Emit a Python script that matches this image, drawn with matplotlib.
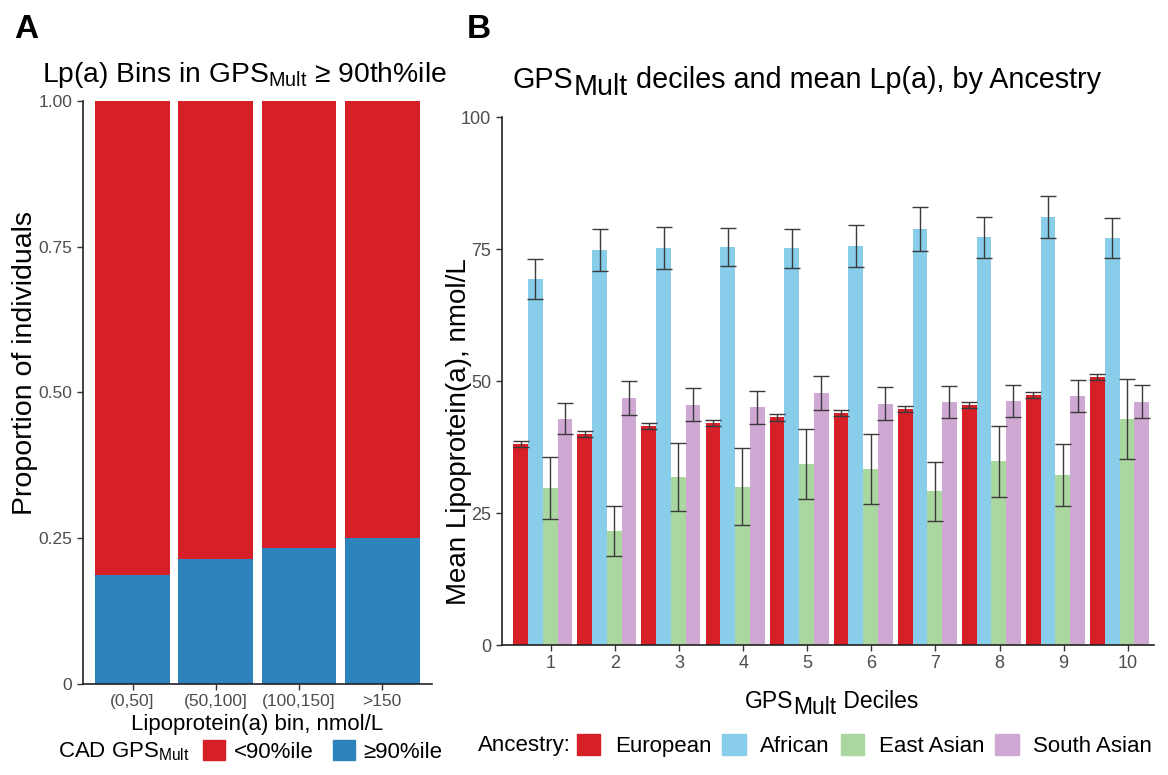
import numpy as np
import matplotlib
matplotlib.use("Agg")
import matplotlib.pyplot as plt
from matplotlib.patches import Patch

plt.rcParams['font.family'] = ['Liberation Sans', 'DejaVu Sans']
plt.rcParams['mathtext.default'] = 'regular'

# ---- panel A data ----
lpa_bins = ['(0,50]', '(50,100]', '(100,150]', '>150']
prop_high = [0.187, 0.215, 0.233, 0.2505]   # >=90%ile share
prop_low = [1 - p for p in prop_high]

# ---- panel B data ----
deciles = list(range(1, 11))
ancestries = ['European', 'African', 'East Asian', 'South Asian']
eur_mean = [38.1, 40.0, 41.5, 42.0, 43.1, 44.0, 44.7, 45.5, 47.4, 50.8]
eur_err = [0.6, 0.6, 0.6, 0.6, 0.6, 0.6, 0.6, 0.6, 0.6, 0.6]
afr_mean = [69.3, 74.8, 75.2, 75.4, 75.1, 75.6, 78.8, 77.2, 81.0, 77.1]
afr_err = [3.85, 3.9, 4.0, 3.65, 3.75, 3.95, 4.1, 3.9, 4.0, 3.75]
eas_mean = [29.7, 21.6, 31.8, 30.0, 34.3, 33.4, 29.1, 34.8, 32.2, 42.8]
eas_err = [5.9, 4.8, 6.4, 7.3, 6.55, 6.6, 5.55, 6.75, 5.85, 7.65]
sas_mean = [42.9, 46.8, 45.5, 45.0, 47.7, 45.7, 46.0, 46.2, 47.2, 46.1]
sas_err = [2.95, 3.25, 3.15, 3.15, 3.2, 3.15, 3.0, 3.0, 3.05, 3.1]

red = '#d71f27'
blue_a = '#2d83bb'
anc_colors = [red, '#88cdea', '#aad79f', '#cfa9d3']
tick_gray = '#4d4d4d'

fig = plt.figure(figsize=(11.68, 7.75), dpi=100)

def style_axes(ax):
    for s in ['top', 'right']:
        ax.spines[s].set_visible(False)
    for s in ['left', 'bottom']:
        ax.spines[s].set_linewidth(1.2)
        ax.spines[s].set_color('#222222')
    ax.tick_params(colors='#333333', labelcolor=tick_gray, length=4, width=1)

def split_text(x, y, parts, size, drop):
    # text pieces where the middle one ("Mult") sits lower, full size
    t1 = fig.text(x, y, parts[0], fontsize=size, va='baseline')
    t2 = axB.annotate(parts[1], xy=(1, 0), xycoords=t1, xytext=(0, -drop),
                      textcoords='offset points', fontsize=size, va='bottom',
                      annotation_clip=False)
    axB.annotate(parts[2], xy=(1, 0), xycoords=(t2, t1), xytext=(0, 0),
                 textcoords='offset points', fontsize=size, va='bottom',
                 annotation_clip=False)

# ================= Panel A =================
axA = fig.add_axes([0.0708, 0.1174, 0.2992, 0.7523])
x = np.arange(1, len(lpa_bins) + 1)
axA.bar(x, prop_high, width=0.9, color=blue_a)
axA.bar(x, prop_low, width=0.9, bottom=prop_high, color=red)
axA.set_xlim(0.4, 4.6)
axA.set_ylim(0, 1)
axA.set_xticks(x)
axA.set_xticklabels(lpa_bins, fontsize=12.5)
axA.set_yticks([0, 0.25, 0.5, 0.75, 1.0])
axA.set_yticklabels(['0', '0.25', '0.50', '0.75', '1.00'], fontsize=12.5)
style_axes(axA)
axA.set_xlabel('Lipoprotein(a) bin, nmol/L', fontsize=16, labelpad=3)
axA.set_ylabel('Proportion of individuals', fontsize=20.5)
axA.yaxis.set_label_coords(-0.128, 0.55)

fig.text(0.012, 0.962, 'A', fontsize=24, fontweight='bold', va='center')
fig.text(0.036, 0.903, r'Lp(a) Bins in GPS$_{Mult}$ ≥ 90th%ile', fontsize=20.3, va='center')

fig.text(0.05, 0.030, r'CAD GPS$_{Mult}$', fontsize=16, va='center')
hA = [Patch(color=red, label='<90%ile'), Patch(color=blue_a, label='≥90%ile')]
fig.legend(handles=hA, loc='center left', bbox_to_anchor=(0.174, 0.030), ncol=2,
           frameon=False, fontsize=16, handlelength=1.0, handleheight=1.0,
           handletextpad=0.36, columnspacing=0.9, borderpad=0, borderaxespad=0)

# ================= Panel B =================
axB = fig.add_axes([0.4295, 0.1677, 0.5585, 0.6813])
w = 0.23
shift = -0.128
xd = np.array(deciles, dtype=float)
means = [eur_mean, afr_mean, eas_mean, sas_mean]
errs = [eur_err, afr_err, eas_err, sas_err]
for i, (m, e, c) in enumerate(zip(means, errs, anc_colors)):
    pos = xd + shift + (i - 1.5) * w
    axB.bar(pos, m, width=w, color=c, label=ancestries[i])
    axB.errorbar(pos, m, yerr=e, fmt='none', ecolor='#3a3a3a', elinewidth=1,
                 capsize=5.5, capthick=1)
axB.set_xlim(0.23, 10.41)
axB.set_ylim(0, 100)
axB.set_xticks(deciles)
axB.set_xticklabels([str(d) for d in deciles], fontsize=13)
axB.set_yticks([0, 25, 50, 75, 100])
axB.set_yticklabels(['0', '25', '50', '75', '100'], fontsize=13)
style_axes(axB)
axB.set_ylabel('Mean Lipoprotein(a), nmol/L', fontsize=20)
axB.yaxis.set_label_coords(-0.046, 0.405)

fig.text(0.400, 0.962, 'B', fontsize=24, fontweight='bold', va='center')

split_text(0.439, 0.887, ['GPS', 'Mult', ' deciles and mean Lp(a), by Ancestry'], 20.7, 5)
split_text(0.638, 0.086, ['GPS', 'Mult', ' Deciles'], 16.5, 4)

fig.text(0.409, 0.038, 'Ancestry:', fontsize=16, va='center')
hB = [Patch(color=c, label=a) for c, a in zip(anc_colors, ancestries)]
fig.legend(handles=hB, loc='center left', bbox_to_anchor=(0.494, 0.038), ncol=4,
           frameon=False, fontsize=16, handlelength=1.05, handleheight=1.05,
           handletextpad=0.65, columnspacing=0.5, borderpad=0, borderaxespad=0)

fig.savefig('out.png', dpi=100)
